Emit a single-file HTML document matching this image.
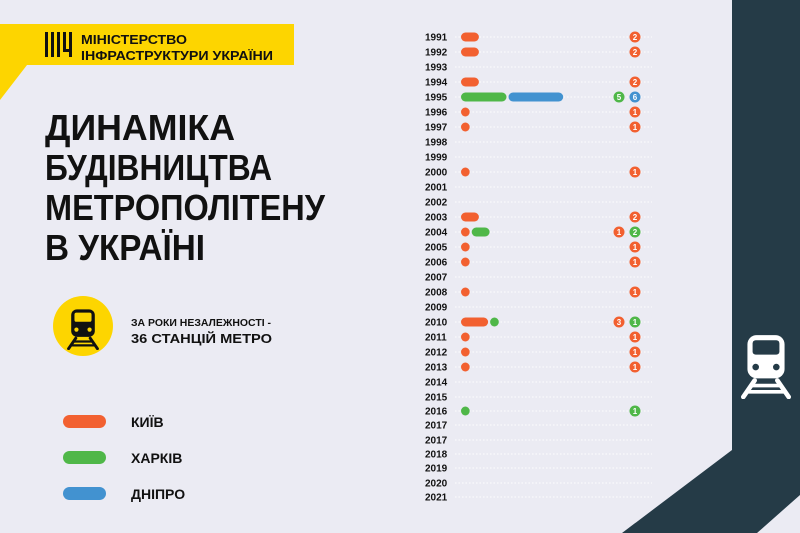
<!DOCTYPE html>
<html><head><meta charset="utf-8"><style>
html,body{margin:0;padding:0;background:#ebebf3}
svg{display:block}
</style></head><body>
<svg width="800" height="533" viewBox="0 0 800 533" xmlns="http://www.w3.org/2000/svg" font-family="Liberation Sans, sans-serif">
<defs>
<symbol id="train" viewBox="0 0 48 64">
<rect x="6" y="2" width="36" height="42" rx="9" fill="currentColor"/>
<rect x="11" y="7" width="26" height="14" rx="3" fill="var(--bg)"/>
<circle cx="14" cy="33" r="3.2" fill="var(--bg)"/>
<circle cx="34" cy="33" r="3.2" fill="var(--bg)"/>
<path d="M13 46 L2 62 M35 46 L46 62" stroke="currentColor" stroke-width="4.5" stroke-linecap="round"/>
<path d="M10 51 H38 M6 57 H42" stroke="currentColor" stroke-width="3.5"/>
</symbol>
</defs>
<rect width="800" height="533" fill="#ebebf3"/>
<polygon points="732,0 800,0 800,495 757,533 622,533 732,450" fill="#253b47"/>
<g style="--bg:#253b47" color="#ffffff"><use href="#train" x="741" y="333" width="50" height="66"/></g>
<polygon points="0,24 294,24 294,65 27,65 0,100" fill="#fdd500"/>
<g fill="#111">
<rect x="45" y="32" width="3" height="25"/><rect x="51" y="32" width="3" height="25"/><rect x="57" y="32" width="3" height="25"/><rect x="63" y="32" width="3" height="20"/><rect x="69" y="32" width="3" height="25"/><rect x="63" y="49" width="9" height="3"/>
</g>
<text x="81" y="44" font-size="13" fill="#111" font-weight="bold" textLength="106" lengthAdjust="spacingAndGlyphs">МІНІСТЕРСТВО</text>
<text x="81" y="60" font-size="13" fill="#111" font-weight="bold" textLength="192" lengthAdjust="spacingAndGlyphs">ІНФРАСТРУКТУРИ УКРАЇНИ</text>
<g font-size="36" font-weight="bold" fill="#111">
<text x="45" y="140" textLength="190" lengthAdjust="spacingAndGlyphs">ДИНАМІКА</text>
<text x="45" y="180" textLength="227" lengthAdjust="spacingAndGlyphs">БУДІВНИЦТВА</text>
<text x="45" y="220" textLength="280" lengthAdjust="spacingAndGlyphs">МЕТРОПОЛІТЕНУ</text>
<text x="45" y="260" textLength="160" lengthAdjust="spacingAndGlyphs">В УКРАЇНІ</text>
</g>
<circle cx="83" cy="326" r="30" fill="#fdd500"/>
<g style="--bg:#fdd500" color="#111"><use href="#train" x="67" y="308" width="32" height="42"/></g>
<text x="131" y="326" font-size="10" font-weight="bold" fill="#111" textLength="140" lengthAdjust="spacingAndGlyphs">ЗА РОКИ НЕЗАЛЕЖНОСТІ -</text>
<text x="131" y="343" font-size="13" font-weight="bold" fill="#111" textLength="141" lengthAdjust="spacingAndGlyphs">36 СТАНЦІЙ МЕТРО</text>
<rect x="63" y="415" width="43" height="13" rx="6.5" fill="#f26030"/>
<rect x="63" y="451" width="43" height="13" rx="6.5" fill="#4fb748"/>
<rect x="63" y="487" width="43" height="13" rx="6.5" fill="#4292d0"/>
<g font-size="14" font-weight="bold" fill="#111">
<text x="131" y="427">КИЇВ</text>
<text x="131" y="463">ХАРКІВ</text>
<text x="131" y="499">ДНІПРО</text>
</g>
<g id="chart"></g>
</svg>
<script>
(function(){
var rows=[["1991",37],["1992",52],["1993",67],["1994",82],["1995",97],["1996",112],["1997",127],["1998",142],["1999",157],["2000",172],["2001",187],["2002",202],["2003",217],["2004",232],["2005",247],["2006",262],["2007",277],["2008",292],["2009",307],["2010",322],["2011",337],["2012",352],["2013",367],["2014",382],["2015",397],["2016",411],["2017",425],["2017",440],["2018",454],["2019",468],["2020",483],["2021",497]];
var O="#f26030",G="#4fb748",B="#4292d0";
var data={"1991":[[O,2]],"1992":[[O,2]],"1994":[[O,2]],"1995":[[G,5],[B,6]],"1996":[[O,1]],"1997":[[O,1]],"2000":[[O,1]],"2003":[[O,2]],"2004":[[O,1],[G,2]],"2005":[[O,1]],"2006":[[O,1]],"2008":[[O,1]],"2010":[[O,3],[G,1]],"2011":[[O,1]],"2012":[[O,1]],"2013":[[O,1]],"2016":[[G,1]]};
var ns="http://www.w3.org/2000/svg",g=document.getElementById("chart");
function el(t,a,txt){var e=document.createElementNS(ns,t);for(var k in a)e.setAttribute(k,a[k]);if(txt)e.textContent=txt;g.appendChild(e);return e;}
rows.forEach(function(r){
 var y=r[1];
 el("line",{x1:455,y1:y,x2:652,y2:y,stroke:"#ffffff","stroke-width":1,"stroke-dasharray":"1.5 2","stroke-opacity":0.9});
 el("text",{x:425,y:y+3.5,"font-size":10,"font-weight":"bold",fill:"#111"},r[0]);
 var d=data[r[0]];
 if(d&&r[0]!=="2017"){
  var x=461;
  d.forEach(function(s){var w=s[1]*9.2-0.5;el("rect",{x:x,y:y-4.5,width:w,height:9,rx:4.5,fill:s[0]});x+=w+2;});
  var cx=d.length>1?[619,635]:[635];
  d.forEach(function(s,i){el("circle",{cx:cx[i],cy:y,r:5.5,fill:s[0]});el("text",{x:cx[i],y:y+3,"font-size":8,"font-weight":"bold",fill:"#fff","text-anchor":"middle"},String(s[1]));});
 }
});
})();
</script>
</body></html>
